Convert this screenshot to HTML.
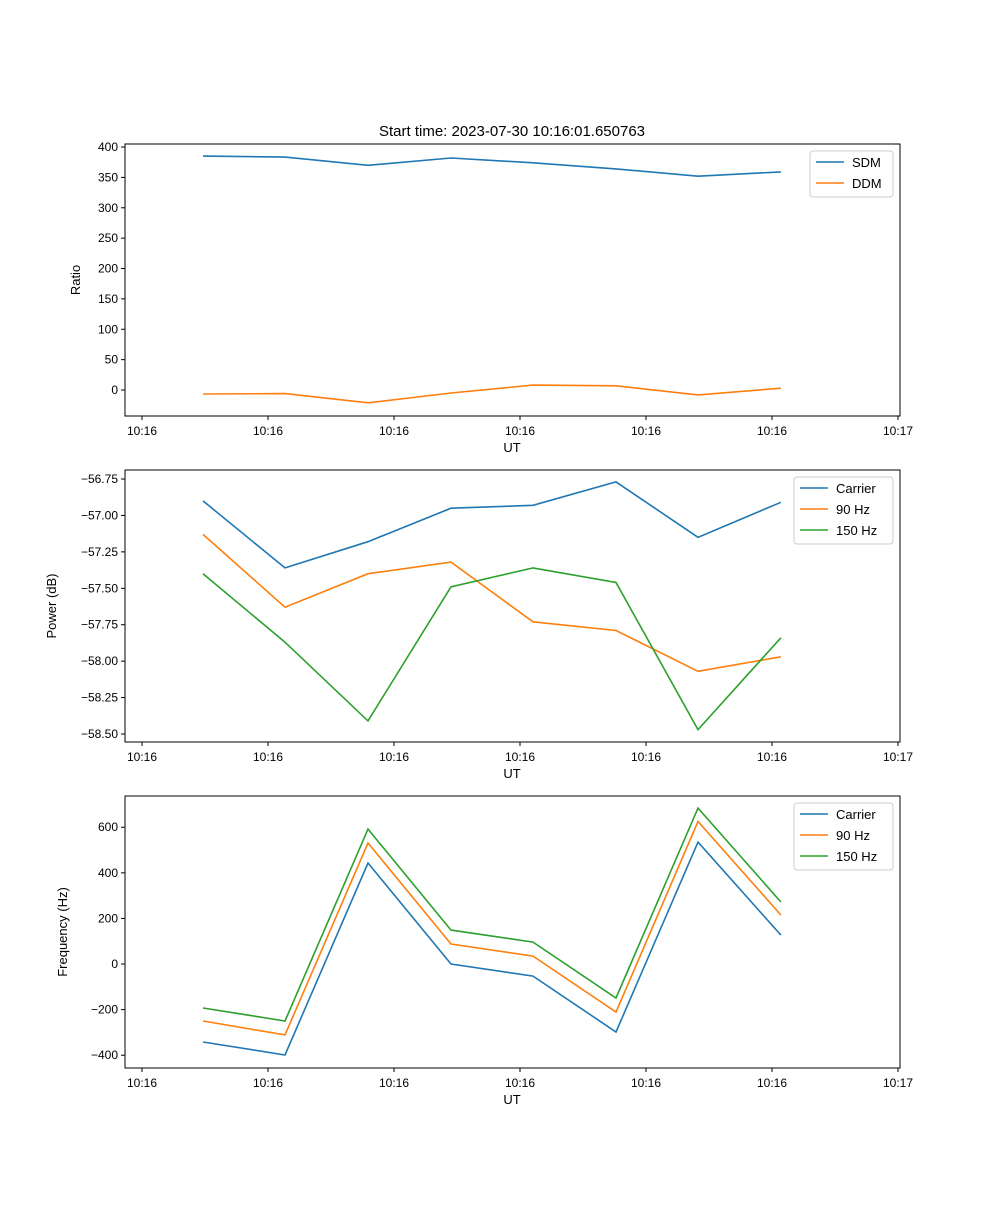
<!DOCTYPE html>
<html><head><meta charset="utf-8"><style>
body{margin:0;background:#fff;}
svg text{font-family:"Liberation Sans","DejaVu Sans",sans-serif;}
</style></head><body>
<svg id="fig" width="1000" height="1200" xmlns="http://www.w3.org/2000/svg">
<rect width="1000" height="1200" fill="#fff"/>
<text x="512" y="136" font-size="15" text-anchor="middle">Start time: 2023-07-30 10:16:01.650763</text>
</svg>
<script>
// shared x data (tick units) and labels
const xTickValues = [0,1,2,3,4,5,6];
const xTickLabels = ["10:16","10:16","10:16","10:16","10:16","10:16","10:17"];
const xValues = [0.484,1.135,1.794,2.452,3.103,3.762,4.413,5.071];
// panel 1
const sdm = [385,383.5,370,382,374,364,352,359];
const ddm = [-6.6,-6,-21,-5,8,7,-8,3];
const ratioTicks = [0,50,100,150,200,250,300,350,400];
// panel 2
const powerCarrier = [-56.90,-57.36,-57.18,-56.95,-56.93,-56.77,-57.15,-56.91];
const power90 = [-57.13,-57.63,-57.40,-57.32,-57.73,-57.79,-58.07,-57.97];
const power150 = [-57.40,-57.87,-58.41,-57.49,-57.36,-57.46,-58.47,-57.84];
const powerTicks = [-58.5,-58.25,-58.0,-57.75,-57.5,-57.25,-57.0,-56.75];
// panel 3
const freqCarrier = [-342,-399,443,0,-53,-298,535,127];
const freq90 = [-250,-311,531,88,35,-211,625,215];
const freq150 = [-193,-250,592,149,96,-149,684,272];
const freqTicks = [-400,-200,0,200,400,600];

const NS="http://www.w3.org/2000/svg";
const svg=document.getElementById('fig');
const L=125,R=900;
function xs(v){return 142+v*126;}
function mk(tag,attrs,parent){const e=document.createElementNS(NS,tag);for(const k in attrs)e.setAttribute(k,attrs[k]);(parent||svg).appendChild(e);return e;}

function panel(name,top,bot,ymin,ymax,yticks,fmt,ylabel,series,legend){
  const g=mk('g',{});
  
  
  const ys=v=>bot-(v-ymin)/(ymax-ymin)*(bot-top);
  series.forEach(s=>{
    const pts=xValues.map((x,i)=>xs(x).toFixed(1)+','+ys(s.vals[i]).toFixed(1)).join(' ');
    const pl=mk('polyline',{points:pts,fill:'none',stroke:s.color,'stroke-width':1.6},g);
    
    
  });
  const fr=mk('rect',{x:L,y:top,width:R-L,height:bot-top,fill:'none',stroke:'#000','stroke-width':1},g);
  
  
  yticks.forEach(v=>{
    const y=ys(v);
    mk('line',{x1:L-4,x2:L,y1:y,y2:y,stroke:'#000'},g);
    const t=mk('text',{x:L-7,y:y+4,'font-size':12,'text-anchor':'end'},g);
    t.textContent=fmt(v);
    
    
  });
  xTickValues.forEach((v,i)=>{
    const x=xs(v);
    mk('line',{x1:x,x2:x,y1:bot,y2:bot+4,stroke:'#000'},g);
    const t=mk('text',{x:x,y:bot+19,'font-size':12,'text-anchor':'middle'},g);
    t.textContent=xTickLabels[i];
    
    
  });
  const xl=mk('text',{x:512,y:bot+36,'font-size':13,'text-anchor':'middle'},g);
  xl.textContent='UT';
  
  
  const cy=(top+bot)/2;
  const yl=mk('text',{x:0,y:0,'font-size':13,'text-anchor':'middle',transform:`translate(${legend.ylx},${cy}) rotate(-90)`},g);
  yl.textContent=ylabel;
  
  
  const lg=mk('g',{},g);
  
  
  mk('rect',{x:legend.x,y:top+7,width:893-legend.x,height:series.length*21+4,rx:3,fill:'#fff',stroke:'#ccc'},lg);
  series.forEach((s,i)=>{
    const y=top+18+i*21;
    mk('line',{x1:legend.x+6,x2:legend.x+34,y1:y,y2:y,stroke:s.color,'stroke-width':1.6},lg);
    const t=mk('text',{x:legend.x+42,y:y+5,'font-size':13},lg);
    t.textContent=s.label;
    
    
  });
}
const B='#1f77b4',O='#ff7f0e',G='#2ca02c';
panel('ratio-panel',144,416,-42.8,405,ratioTicks,v=>String(v),'Ratio',
  [{id:'sdm-line',vals:sdm,color:B,label:'SDM'},{id:'ddm-line',vals:ddm,color:O,label:'DDM'}],{x:810,ylx:80});
panel('power-panel',470,742,-58.555,-56.688,powerTicks,v=>'\u2212'+Math.abs(v).toFixed(2),'Power (dB)',
  [{id:'carrier-power-line',vals:powerCarrier,color:B,label:'Carrier'},{id:'90hz-power-line',vals:power90,color:O,label:'90 Hz'},{id:'150hz-power-line',vals:power150,color:G,label:'150 Hz'}],{x:794,ylx:56});
panel('frequency-panel',796,1068,-456,737,freqTicks,v=>(v<0?'\u2212':'')+Math.abs(v),'Frequency (Hz)',
  [{id:'carrier-freq-line',vals:freqCarrier,color:B,label:'Carrier'},{id:'90hz-freq-line',vals:freq90,color:O,label:'90 Hz'},{id:'150hz-freq-line',vals:freq150,color:G,label:'150 Hz'}],{x:794,ylx:67});
</script>
</body></html>
